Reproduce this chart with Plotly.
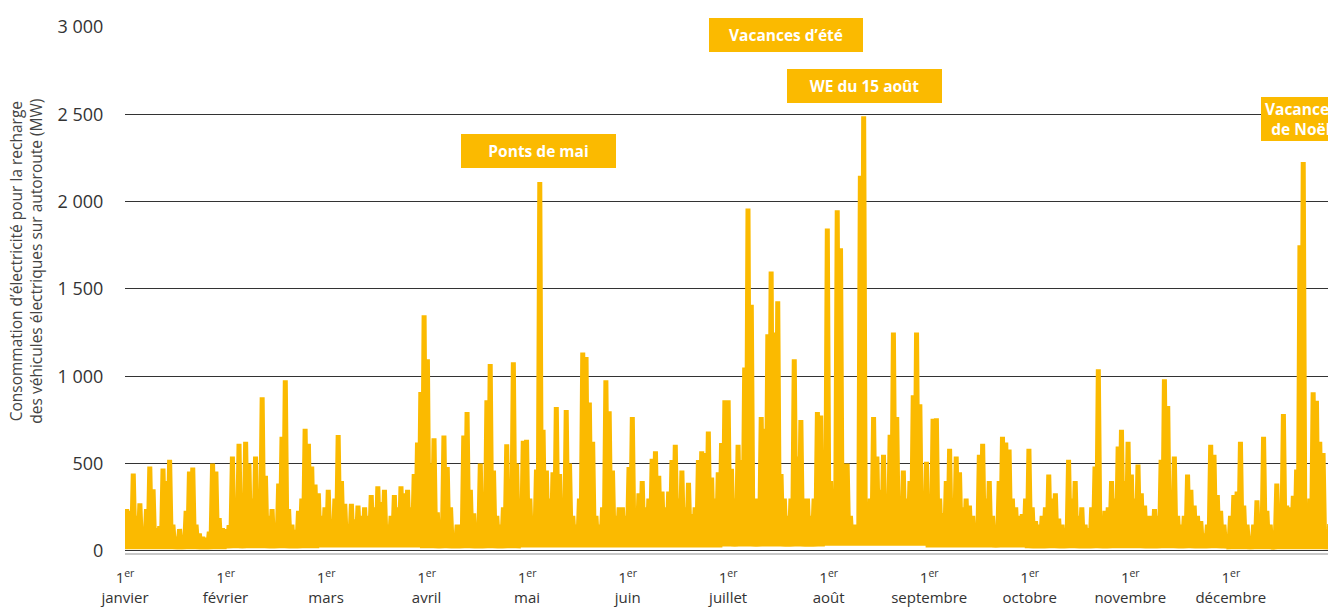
import plotly.graph_objects as go

# ---------------- data ----------------
month_labels = ["janvier", "février", "mars", "avril", "mai", "juin", "juillet",
                "août", "septembre", "octobre", "novembre", "décembre"]
month_days = [31, 28, 31, 30, 31, 30, 31, 31, 30, 31, 30, 31]

# daily peak of the recharge consumption (MW), 1 Jan -> 31 Dec
daily_peak_mw = [
    240, 230, 443, 200, 273, 120, 240, 483, 352, 130,
    142, 471, 400, 522, 150, 80, 125, 60, 230, 454,
    477, 150, 100, 80, 75, 110, 500, 454, 187, 130,
    125, 148, 540, 300, 614, 250, 625, 500, 300, 540,
    350, 880, 430, 200, 240, 150, 386, 653, 977, 240,
    150, 120, 230, 300, 700, 614, 483, 380, 330, 200,
    250, 350, 180, 300, 664, 400, 270, 150, 270, 180,
    260, 200, 250, 200, 320, 250, 370, 280, 350, 150,
    200, 320, 250, 370, 330, 350, 250, 440, 620, 910,
    1350, 1097, 500, 645, 220, 150, 660, 480, 250, 100,
    150, 150, 660, 795, 350, 215, 150, 500, 250, 863,
    1070, 460, 200, 150, 250, 610, 400, 1080, 500, 200,
    630, 636, 300, 200, 466, 2113, 693, 460, 300, 450,
    824, 440, 250, 806, 500, 200, 150, 300, 1136, 1110,
    850, 625, 200, 150, 250, 977, 800, 460, 200, 250,
    250, 200, 480, 767, 200, 330, 400, 250, 300, 528,
    570, 430, 340, 250, 340, 520, 608, 300, 460, 250,
    390, 210, 250, 520, 570, 560, 683, 420, 300, 450,
    618, 862, 862, 470, 300, 607, 520, 1050, 1960, 1410,
    300, 300, 767, 700, 1240, 1600, 1250, 1430, 440, 300,
    200, 300, 1097, 540, 750, 300, 300, 200, 300, 795,
    775, 400, 1846, 400, 300, 1950, 1733, 500, 500, 200,
    150, 150, 2148, 2489, 250, 300, 767, 540, 350, 550,
    300, 665, 1250, 767, 250, 460, 300, 400, 891, 1250,
    840, 300, 510, 300, 756, 760, 300, 216, 400, 585,
    300, 540, 450, 250, 300, 260, 200, 150, 550, 614,
    300, 400, 200, 120, 400, 653, 620, 580, 300, 250,
    200, 210, 300, 585, 250, 170, 150, 200, 250, 437,
    300, 330, 185, 150, 130, 522, 300, 400, 200, 250,
    150, 130, 250, 483, 1040, 200, 230, 250, 400, 300,
    597, 693, 400, 625, 437, 300, 494, 330, 260, 200,
    200, 240, 200, 522, 983, 830, 300, 540, 200, 150,
    200, 437, 350, 260, 200, 170, 100, 150, 608, 550,
    320, 230, 150, 80, 200, 320, 340, 625, 260, 150,
    70, 150, 290, 200, 653, 230, 150, 50, 386, 200,
    784, 260, 250, 315, 466, 1750, 2227, 150, 300, 909,
    860, 625, 560, 80, 153,
]

# typical night-time trough per month (MW)
monthly_trough_mw = [10, 15, 20, 15, 20, 20, 25, 30, 20, 15, 15, 10]

annotations_text = ["Ponts de mai", "Vacances d’été", "WE du 15 août", "Vacances<br>de Noël"]

# ---------------- build the series ----------------
trough_by_day = []
for m, nd in enumerate(month_days):
    trough_by_day += [monthly_trough_mw[m]] * nd

xs, ys = [], []
for d, peak in enumerate(daily_peak_mw):
    xs += [d, d + 0.5]
    ys += [trough_by_day[d], peak]
xs.append(len(daily_peak_mw))
ys.append(trough_by_day[-1])

COLOR = "#FBBA00"
FONT = "Open Sans"

# the page body adds an 8 px offset; compensate so the picture lines up
OFF = 8
FIG_W, FIG_H = 1336 - OFF, 607 - OFF
PL, PT, PH = 125.0 - OFF, 27.0 - OFF, 529.0
W = FIG_W - PL

fig = go.Figure()
fig.add_trace(go.Scatter(x=xs, y=ys, mode="lines",
                         line=dict(color=COLOR, width=5, shape="linear"),
                         hoverinfo="skip", showlegend=False))

tick_pos = [k * 365 / 12 for k in range(12)]
tick_txt = ["1<sup>er</sup><br>" + m for m in month_labels]

fig.update_layout(
    width=FIG_W, height=FIG_H,
    margin=dict(l=PL, r=0, t=PT, b=FIG_H - PT - PH, pad=0),
    paper_bgcolor="white", plot_bgcolor="white",
    separators=", ",
    font=dict(family=FONT, color="#333333"),
    xaxis=dict(range=[0, W / 3.305], tickvals=tick_pos, ticktext=tick_txt,
               showgrid=False, zeroline=False,
               showline=True, linecolor="#c8c8c8", linewidth=2,
               ticks="outside", ticklen=10, tickcolor="rgba(0,0,0,0)",
               tickfont=dict(size=15, color="#333333", family=FONT)),
    yaxis=dict(range=[-12, 3000], tickvals=[0, 500, 1000, 1500, 2000, 2500, 3000],
               tickformat=",d", showgrid=True, gridcolor="#333333", gridwidth=1,
               zeroline=False, showline=False,
               ticks="outside", ticklen=17, tickcolor="rgba(0,0,0,0)",
               tickfont=dict(size=18, color="#333333", family=FONT)),
)


def xp(px):
    return (px - OFF - PL) / W


def yp(py):
    return (PT + PH - (py - OFF)) / PH


boxes = [
    (annotations_text[0], 538.5, 152, 155, 34),
    (annotations_text[1], 786, 35, 154, 34),
    (annotations_text[2], 864.5, 86, 155, 34),
    (annotations_text[3], 1301, 120, 80, 44),
]
for txt, cx, cy, w, h in boxes:
    fig.add_annotation(x=xp(cx), y=yp(cy), xref="paper", yref="paper",
                       text="<b>" + txt + "</b>", showarrow=False,
                       xanchor="center", yanchor="middle",
                       width=w, height=h, bgcolor=COLOR, borderpad=0, borderwidth=0,
                       align="center", valign="middle",
                       font=dict(family=FONT, size=15.5, color="white"))

fig.add_annotation(x=xp(26), y=yp(263), xref="paper", yref="paper",
                   text="Consommation d’électricité pour la recharge<br>des véhicules électriques sur autoroute (MW)",
                   textangle=-90, showarrow=False, xanchor="center", yanchor="middle",
                   font=dict(family=FONT, size=15.5, color="#444444"))

fig.write_html("out.html")
